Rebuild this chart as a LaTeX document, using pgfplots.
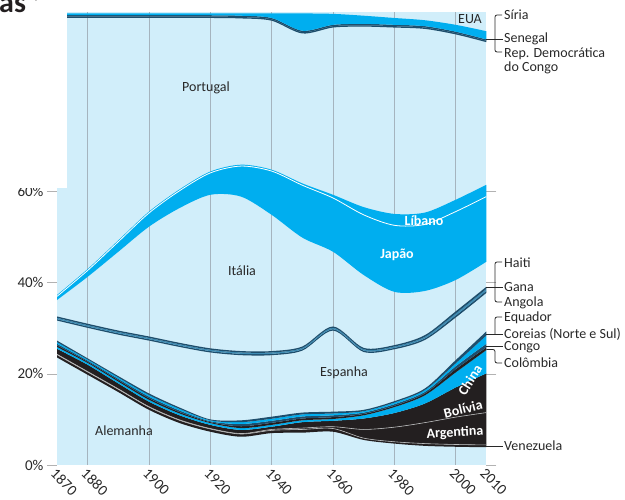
\documentclass[border=0pt]{standalone}
\usepackage{fontspec}
\setmainfont{Carlito}
\usepackage{pgfplots}
\pgfplotsset{compat=1.18}
\usepgfplotslibrary{fillbetween}
\usepackage{pgfplotstable}

\definecolor{lb}{RGB}{209,238,250}
\definecolor{cy}{RGB}{0,174,239}
\definecolor{bk}{RGB}{35,31,32}
\definecolor{nv}{RGB}{30,78,108}
\definecolor{md}{RGB}{62,140,180}
\definecolor{gr}{RGB}{165,180,190}
\definecolor{tx}{RGB}{40,40,40}

% cumulative upper boundaries (percent), bottom to top
\pgfplotstableread{
year A V Ar B Ch Col Con Cor Eq E An G H I J L P R S Sy
1870 23.6 24.2 24.3 25.5 25.9 26.25 26.6 26.95 27.3 31.7 32.0 32.3 32.6 36.2 37.0 37.3 98.1 98.4 98.7 99.1
1880 19.8 20.4 20.5 22.0 22.4 22.65 22.9 23.15 23.4 30.1 30.4 30.7 31.0 41.3 42.7 43.0 98.1 98.4 98.7 99.1
1890 16.0 16.6 16.7 17.9 18.3 18.6 18.9 19.2 19.5 28.6 28.9 29.2 29.5 46.8 49.0 49.3 98.1 98.4 98.7 99.1
1900 12.1 12.7 12.8 13.9 14.3 14.65 15.0 15.35 15.7 27.3 27.6 27.9 28.2 52.3 55.3 55.6 98.1 98.4 98.7 99.1
1910 9.2 9.8 9.9 10.9 11.3 11.6 11.95 12.3 12.6 25.9 26.2 26.5 26.8 56.4 60.2 60.5 98.1 98.4 98.7 99.1
1920 7.3 7.9 8.0 8.8 9.2 9.4 9.6 9.8 10.0 24.7 25.0 25.3 25.6 59.3 64.1 64.4 98.1 98.4 98.7 99.1
1930 6.2 6.8 6.9 7.7 8.1 8.5 9.0 9.4 9.8 24.1 24.4 24.7 25.0 58.9 65.6 65.9 98.0 98.3 98.6 99.1
1940 7.0 7.6 7.8 8.4 8.8 9.25 9.7 10.15 10.6 24.1 24.4 24.7 25.0 54.9 64.5 64.8 97.5 97.8 98.1 99.1
1950 7.1 7.8 8.1 9.4 9.8 10.2 10.65 11.1 11.5 25.1 25.4 25.7 26.0 49.9 61.4 61.8 94.7 95.0 95.3 99.1
1960 7.3 8.0 8.4 9.7 10.1 10.5 10.9 11.3 11.7 29.5 29.8 30.1 30.4 46.8 58.6 59.3 96.0 96.3 96.6 99.0
1970 5.5 5.9 7.8 10.2 10.9 11.2 11.5 11.8 12.1 24.8 25.1 25.4 25.7 41.7 54.9 56.6 96.2 96.5 96.8 98.6
1980 4.7 5.1 8.3 11.4 12.7 13.0 13.35 13.7 14.0 25.4 25.7 26.0 26.3 38.0 52.6 55.1 96.0 96.3 96.6 98.1
1990 4.2 4.7 9.3 13.5 15.3 15.7 16.05 16.45 16.8 27.45 27.8 28.15 28.5 38.2 52.8 55.4 95.7 96.0 96.3 97.6
2000 4.0 4.5 10.5 17.0 20.3 21.0 21.65 22.3 23.0 32.35 32.8 33.25 33.7 40.6 55.6 58.2 94.5 94.8 95.1 96.6
2010 3.9 4.4 11.5 20.1 25.2 25.8 26.6 28.4 29.3 37.75 38.2 38.65 39.1 44.6 58.9 61.5 92.8 93.1 93.4 95.2
}\data

\begin{document}
\begin{tikzpicture}
\begin{axis}[
  at={(57pt,35pt)}, anchor=south west, scale only axis,
  width=429.3pt, height=453.4pt,
  xmin=1870, xmax=2010, ymin=0, ymax=99.5,
  axis background/.style={fill=lb},
  axis line style={draw=none},
  xtick={1870,1880,1900,1920,1940,1960,1980,2000,2010},
  xticklabels={1870,1880,1900,1920,1940,1960,1980,2000,2010},
  ytick={0,20,40,60},
  yticklabels={0\%,20\%,40\%,60\%},
  tick align=outside, major tick length=10pt,
  xtick style={draw=none},
  ytick style={draw=gray!60, line width=0.6pt},
  extra x ticks={1880,1900,1920,1940,1960,1980,2000},
  extra x tick labels={},
  extra x tick style={grid=major, major grid style={gr, line width=0.9pt}, tick style={draw=none}},
  ticklabel style={font=\fontsize{15}{15}\selectfont, text=tx},
  xticklabel shift={-9pt},
  xticklabel style={rotate=-45, anchor=north west, inner sep=1pt},
]
\foreach \c in {A,V,Ar,B,Ch,Col,Con,Cor,Eq,E,An,G,H,I,J,L,P,R,S,Sy}{
  \edef\tmp{\noexpand\addplot[draw=none, smooth, name path=\c] table[x=year,y=\c]{\noexpand\data};}
  \tmp
}
% Venezuela, Argentina, Bolivia
\addplot[fill=bk, draw=none] fill between[of=A and V];
\addplot[fill=bk, draw=none] fill between[of=V and Ar];
\addplot[fill=bk, draw=none] fill between[of=Ar and B];
% China
\addplot[fill=cy, draw=none] fill between[of=B and Ch];
% Colombia, Congo, Coreias, Equador
\addplot[fill=bk, draw=none] fill between[of=Ch and Col];
\addplot[fill=nv, draw=none] fill between[of=Col and Con];
\addplot[fill=cy, draw=none] fill between[of=Con and Cor];
\addplot[fill=nv, draw=none] fill between[of=Cor and Eq];
% Angola, Gana, Haiti
\addplot[fill=nv, draw=none] fill between[of=E and An];
\addplot[fill=md, draw=none] fill between[of=An and G];
\addplot[fill=nv, draw=none] fill between[of=G and H];
% Japao, Libano
\addplot[fill=cy, draw=none] fill between[of=I and J];
\addplot[fill=cy, draw=none] fill between[of=J and L];
% RDC, Senegal, Siria
\addplot[fill=nv, draw=none] fill between[of=P and R];
\addplot[fill=nv, draw=none] fill between[of=R and S];
\addplot[fill=cy, draw=none] fill between[of=S and Sy];
% separator lines
\addplot[white, line width=0.8pt, smooth] table[x=year,y=J]{\data};
\addplot[gray!55, line width=0.6pt, smooth] table[x=year,y=V]{\data};
\addplot[gray!55, line width=0.6pt, smooth] table[x=year,y=Ar]{\data};
\end{axis}

% white cut-out at upper left and title fragment
\fill[white] (-5pt,312pt) rectangle (66.7pt,510pt);
\node[anchor=base west, inner sep=0pt, text=bk, font=\fontsize{30}{30}\selectfont\bfseries] at (-1pt,487pt) {as};
\node[inner sep=0pt, text=bk, font=\fontsize{22}{22}\selectfont\bfseries] at (36pt,498pt) {*};

% labels inside
\begin{scope}[every node/.style={font=\fontsize{14}{16}\selectfont, text=tx, inner sep=0pt}]
\node at (206pt,412pt) {Portugal};
\node at (242pt,229pt) {Itália};
\node at (124pt,69pt) {Alemanha};
\node at (344pt,127pt) {Espanha};
\node at (470pt,480.5pt) {EUA};
\node[text=white, font=\fontsize{14}{16}\selectfont\bfseries] at (397pt,245pt) {Japão};
\node[text=white, font=\fontsize{14}{16}\selectfont\bfseries] at (424pt,279pt) {Líbano};
\node[text=white, font=\fontsize{14}{16}\selectfont\bfseries, rotate=58] at (470pt,120pt) {China};
\node[text=white, font=\fontsize{14}{16}\selectfont\bfseries, rotate=14] at (463pt,91pt) {Bolívia};
\node[text=white, font=\fontsize{14}{16}\selectfont\bfseries, rotate=3] at (455pt,67pt) {Argentina};
\end{scope}

% right-hand labels
\begin{scope}[every node/.style={font=\fontsize{14}{16}\selectfont, text=tx, inner sep=0pt, anchor=base west}]
\node at (504pt,480.5pt) {Síria};
\node at (504pt,457pt) {Senegal};
\node at (504pt,442.5pt) {Rep. Democrática};
\node at (504pt,428.5pt) {do Congo};
\node at (504pt,232.5pt) {Haiti};
\node at (504pt,208.5pt) {Gana};
\node at (504pt,193.5pt) {Angola};
\node at (504pt,178pt) {Equador};
\node at (504pt,161.5pt) {Coreias (Norte e Sul)};
\node at (504pt,149.5pt) {Congo};
\node at (504pt,132.5pt) {Colômbia};
\node at (504pt,49.5pt) {Venezuela};
\end{scope}
\begin{scope}[draw=tx, line width=0.8pt, rounded corners=2pt]
\draw (502pt,485pt) -- (495pt,485pt) -- (495pt,448pt) -- (502pt,448pt);
\draw (486.3pt,461pt) -- (503pt,461pt);
\draw (502pt,238pt) -- (495pt,238pt) -- (495pt,198pt) -- (502pt,198pt);
\draw (486.3pt,213pt) -- (503pt,213pt);
\draw (502pt,183pt) -- (495pt,183pt) -- (495pt,166pt);
\draw (486.3pt,166pt) -- (503pt,166pt);
\draw (486.3pt,154pt) -- (503pt,154pt);
\draw (486.3pt,150.5pt) -- (495pt,150.5pt) -- (495pt,137pt) -- (502pt,137pt);
\draw (486.3pt,54pt) -- (503pt,54pt);
\end{scope}

\pgfresetboundingbox
\path[use as bounding box] (0pt,0pt) rectangle (625pt,500pt);
\end{tikzpicture}
\end{document}
